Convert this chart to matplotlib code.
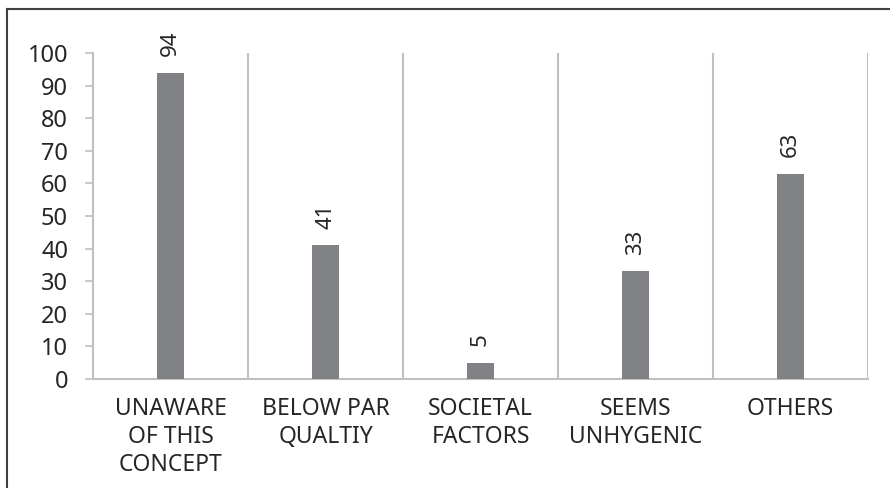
import matplotlib
matplotlib.use('Agg')
import matplotlib.pyplot as plt
from matplotlib.lines import Line2D

# data
categories = ['UNAWARE\nOF THIS\nCONCEPT', 'BELOW PAR\nQUALTIY', 'SOCIETAL\nFACTORS',
              'SEEMS\nUNHYGENIC', 'OTHERS']
counts = [94, 41, 5, 33, 63]
yticks = list(range(0, 101, 10))

plt.rcParams['font.family'] = ['Noto Sans', 'DejaVu Sans']

grid_col = '#c0c0c0'
bar_col = '#808184'
text_col = '#262626'

fig = plt.figure(figsize=(8.9, 4.88), dpi=100)
ax = fig.add_axes([93/890, 1 - 379/488, (868 - 93)/890, (379 - 53)/488])

x = list(range(len(counts)))
bars = ax.bar(x, counts, width=0.18, color=bar_col, zorder=3)

for xi, v in zip(x, counts):
    ax.annotate(str(v), (xi, v), xytext=(0, 12), textcoords='offset points',
                rotation=90, ha='center', va='bottom', fontsize=16, color=text_col)

ax.set_xlim(-0.5, len(counts) - 0.5)
ax.set_ylim(0, 100)
ax.set_yticks(yticks)
ax.tick_params(axis='y', labelsize=17, length=6, width=1.2, color=grid_col,
               pad=12, labelcolor=text_col)
ax.set_xticks(x)
ax.set_xticklabels(categories, fontsize=16.5, color=text_col, linespacing=1.23)
ax.tick_params(axis='x', length=0, pad=13)

# category separators
ax.vlines([i + 0.5 for i in x], 0, 100, colors=grid_col, lw=1.5, zorder=1)

for s in ['top', 'right']:
    ax.spines[s].set_visible(False)
for s in ['left', 'bottom']:
    ax.spines[s].set_color(grid_col)
    ax.spines[s].set_linewidth(1.5)

# frame lines of the cropped outer border
fig.add_artist(Line2D([7/890, 1], [1 - 9/488, 1 - 9/488], color='#404040', lw=1.5))
fig.add_artist(Line2D([7/890, 7/890], [0, 1 - 9/488], color='#404040', lw=1.5))

fig.savefig('out.png', dpi=100)
